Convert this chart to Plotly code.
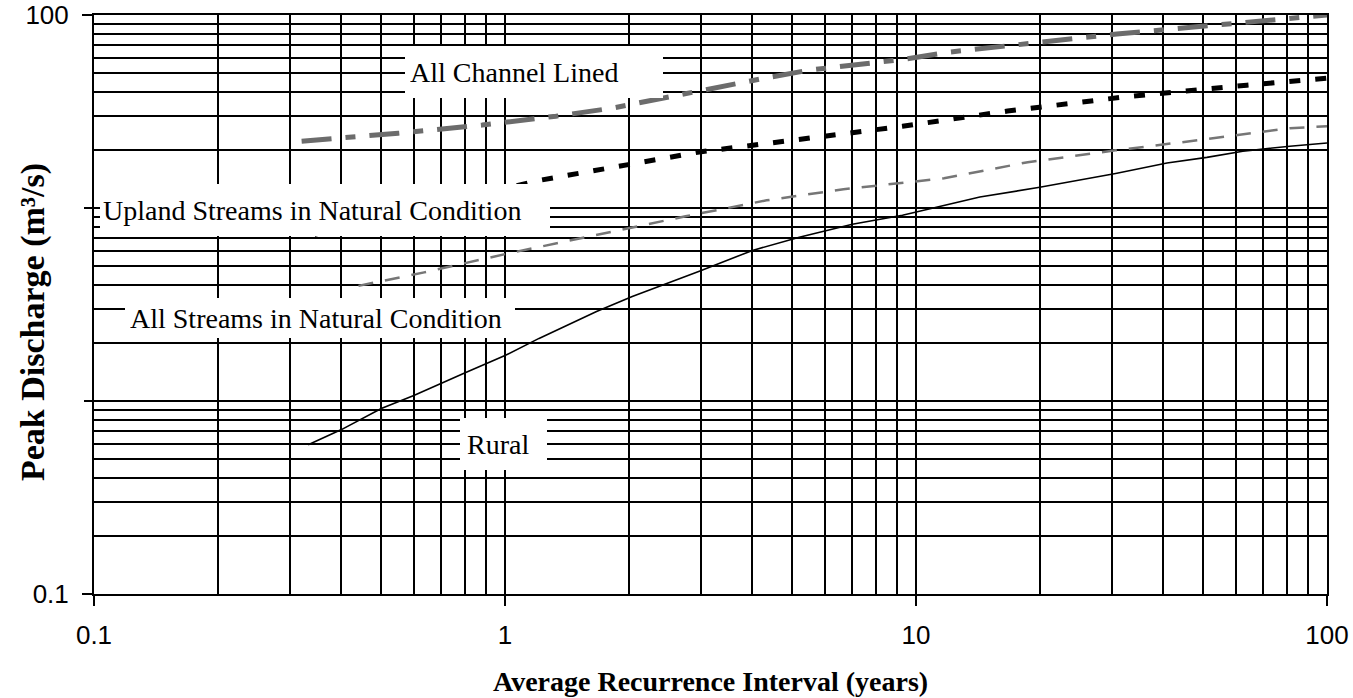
import plotly.graph_objects as go

# Average recurrence interval (years) for each condition curve
channel_x = [0.32, 0.55, 0.88, 1.33, 1.82, 2.84, 4.16, 5.5, 9.4, 12.1, 19.2, 30.8, 47.4, 61.4, 100]
channel_y = [22.2, 24.4, 26.9, 29.9, 32.9, 39.8, 46.5, 51.8, 59.1, 64.3, 71.6, 79.7, 86.6, 90.9, 100]

upland_x = [0.344, 1.21, 2.97, 9.27, 16.7, 31.7, 63.8, 100]
upland_y = [7.3, 13.9, 19.5, 26.5, 31.8, 37.5, 43.3, 47.1]

streams_x = [0.44, 0.636, 1.02, 1.65, 2.75, 4.33, 6.66, 11.7, 18.7, 30.6, 49, 81.2, 100]
streams_y = [3.95, 4.64, 5.82, 7.22, 9.06, 10.96, 12.5, 14.26, 17.27, 19.9, 22.5, 25.9, 26.5]

rural_x = [0.332, 0.4, 0.5, 0.6, 0.8, 1.0, 1.21, 1.67, 2.04, 2.97, 4.0, 5.2, 7.0, 9.27,
           14.3, 20, 30.6, 40.8, 51, 62.4, 81.2, 100]
rural_y = [0.594, 0.711, 0.914, 1.067, 1.40, 1.72, 2.11, 2.91, 3.48, 4.7, 6.03, 7.05, 8.23, 9.17,
           11.4, 12.8, 15.1, 17.1, 18.3, 19.7, 20.9, 21.7]

x_ticks = [0.1, 1, 10, 100]
x_tick_text = ["0.1", "1", "10", "100"]
y_ticks = [0.1, 100]
y_tick_text = ["0.1", "100"]
y_unlabelled_ticks = [1, 10]
minor_x = [m * 10.0 ** e for e in (-1, 0, 1) for m in range(2, 10)]
minor_y = minor_x + y_unlabelled_ticks

SERIF = "Liberation Serif, Times New Roman, serif"
SANS = "Liberation Sans Narrow, Liberation Sans, Arial, sans-serif"

fig = go.Figure()
fig.add_trace(go.Scatter(x=channel_x, y=channel_y, mode="lines", name="All Channel Lined",
                         line=dict(color="#6c6c6c", width=5, dash="30px,14px,10px,14px")))
fig.add_trace(go.Scatter(x=upland_x, y=upland_y, mode="lines", name="Upland Streams in Natural Condition",
                         line=dict(color="black", width=5, dash="11px,15px")))
fig.add_trace(go.Scatter(x=streams_x, y=streams_y, mode="lines", name="All Streams in Natural Condition",
                         line=dict(color="#767676", width=2.5, dash="15px,12px")))
fig.add_trace(go.Scatter(x=rural_x, y=rural_y, mode="lines", name="Rural",
                         line=dict(color="black", width=1.6)))

# plot area in pixels
L, R, T, B = 94, 1327, 15, 594
W, H = 1353, 698
PW, PH = R - L, B - T


def px_x(px):
    return (px - L) / PW


def px_y(py):
    return 1 - (py - T) / PH


def box(text, x0, y0, x1, y1, pad=5):
    """White label box given by its pixel corners; the text sits at its left."""
    fig.add_annotation(
        text=text, xref="paper", yref="paper",
        x=px_x(x0), y=px_y(y0),
        xanchor="left", yanchor="top",
        width=x1 - x0 - 2 * pad, height=y1 - y0 - 2 * pad,
        align="left", valign="middle",
        showarrow=False, bgcolor="white", borderpad=pad, borderwidth=0,
        font=dict(family=SERIF, size=28, color="black"),
    )


box("All Channel Lined", 405, 46, 663, 98)
box("Upland Streams in Natural Condition", 100, 184, 550, 236, pad=3)
box("All Streams in Natural Condition", 125, 298, 515, 338)
box("Rural", 460, 418, 547, 470, pad=7)

# unlabelled tick marks on the y axis at 1 and 10
for v in y_unlabelled_ticks:
    fig.add_shape(type="line", xref="paper", yref="y", x0=-10 / PW, x1=0, y0=v, y1=v,
                  line=dict(color="black", width=2))

# axis titles
fig.add_annotation(text="<b>Average Recurrence Interval (years)</b>", xref="paper", yref="paper",
                   x=0.5, y=px_y(681), xanchor="center", yanchor="middle", showarrow=False,
                   font=dict(family=SERIF, size=28, color="black"))
fig.add_annotation(text="<b>Peak Discharge (m³/s)</b>", xref="paper", yref="paper",
                   x=px_x(33), y=px_y(322), xanchor="center", yanchor="middle", showarrow=False,
                   textangle=-90, font=dict(family=SERIF, size=34, color="black"))

axis_common = dict(
    type="log", range=[-1, 2], automargin=False,
    showgrid=True, gridcolor="black", gridwidth=2,
    ticks="outside", ticklen=10, tickwidth=2, tickcolor="black",
    showline=True, linecolor="black", linewidth=2, mirror=True,
    tickfont=dict(family=SANS, size=26, color="black"),
)

fig.update_xaxes(**axis_common, tickvals=x_ticks, ticktext=x_tick_text, ticklabelstandoff=7,
                 minor=dict(tickvals=minor_x, showgrid=True, gridcolor="black", gridwidth=2, ticks=""))
fig.update_yaxes(**axis_common, tickvals=y_ticks, ticktext=y_tick_text, ticklabelstandoff=8,
                 minor=dict(tickvals=minor_y, showgrid=True, gridcolor="black", gridwidth=2, ticks=""))

fig.update_layout(
    width=W, height=H,
    margin=dict(l=L, r=W - R, t=T, b=H - B),
    plot_bgcolor="white", paper_bgcolor="white",
    showlegend=False,
)

fig.write_html("out.html")
